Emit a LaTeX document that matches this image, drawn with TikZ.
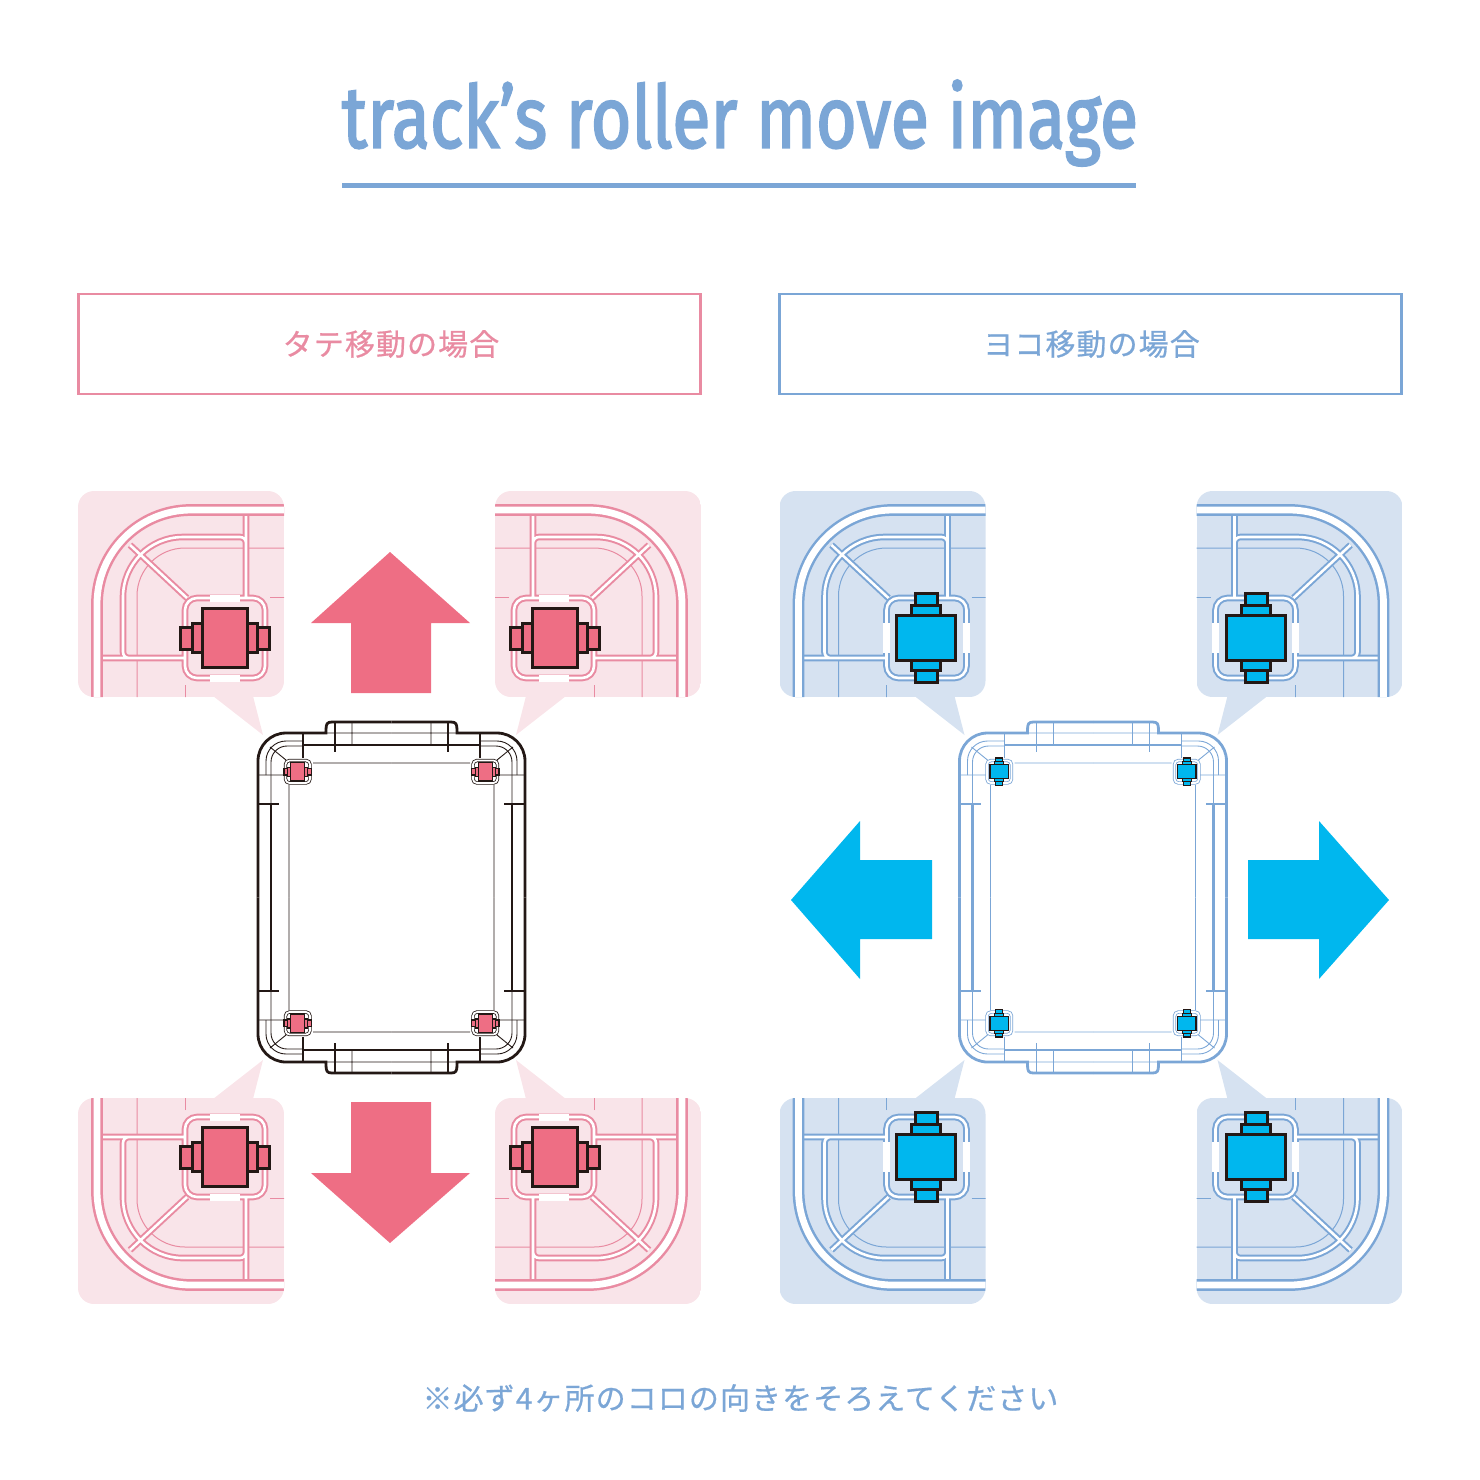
\documentclass[tikz,border=0pt]{standalone}
\usepackage{fontspec}
\setmainfont{Fira Sans}
\newfontfamily\jpfont{Noto Sans CJK JP}[LetterSpace=3.6,FakeBold=.6]
\newfontfamily\titlefont{Fira Sans}[FakeBold=2.4]
\usetikzlibrary{positioning}

\definecolor{pinkline}{HTML}{E98BA2}
\definecolor{pinkbg}{HTML}{F9E4E9}
\definecolor{pinkfill}{HTML}{EE6E84}
\definecolor{blueline}{HTML}{7BA6D6}
\definecolor{bluebg}{HTML}{D6E2F1}
\definecolor{bluefill}{HTML}{00B7EE}
\definecolor{caseblack}{HTML}{231815}

\tikzset{
    bigband/.style={double=white, double distance=3.4pt, line width=1.25pt},
    band/.style={double=white, double distance=1.3pt, line width=1pt},
    thinline/.style={line width=.5pt},
    labelbox/.style={draw, fill=white, line width=1.2pt, minimum width=311pt, minimum height=50pt, inner sep=0pt},
    caseline/.style={line width=.45pt},
    casethick/.style={line width=1.4pt},
    casemid/.style={line width=.75pt},
}

% roller: fill, angle, scale, line width
\newcommand{\roller}[4]{
    \begin{scope}[rotate=#2, scale=#3, draw=caseblack, fill=#1, line width=#4]
        \filldraw (-44.5,-11) rectangle (44.5,11);
        \filldraw (-32.5,-14.5) rectangle (32.5,14.5);
        \filldraw (-22.5,-29.5) rectangle (22.5,29.5);
    \end{scope}
}

% top left bubble: line colour, background, roller fill, roller angle
\newcommand{\cornerbubble}[4]{
    \fill[#2] (213,696) -- (253,696) -- (263,735) -- cycle;
    \begin{scope}
        \clip[rounded corners=8pt] (78,491) rectangle (284,697);
        \fill[#2] (78,491) rectangle (284,697);
        \draw[#1, thinline] (137,700) [rounded corners=24pt] -- (137,548) -- (290,548);
        \draw[#1, thinline] (185,685) -- (185,700) (270,597) -- (290,597);
        \draw[#1, band] (100,658) -- (184,658)
            (246,515) -- (246,597)
            (130,545) -- (187,598)
            (184,658) [rounded corners=3pt] -- (123,658) [rounded corners=30pt] -- (123,537) [rounded corners=3pt] -- (246,537) [sharp corners] -- (246,560)
            (185,598) [rounded corners=6pt] -- (265,598) -- (265,678) -- (185,678) -- cycle;
        \draw[#1, bigband] (97,700) [rounded corners=47pt] -- (97,510) -- (290,510);
        \begin{scope}[shift={(225,638)}, rotate=#4]
            \fill[white] (-15,-43.5) rectangle (15,-36.5);
            \fill[white] (-15,36.5) rectangle (15,43.5);
        \end{scope}
        \begin{scope}[shift={(224.5,638)}]
            \roller{#3}{#4}{1}{1.5pt}
        \end{scope}
    \end{scope}
}

% top left quarter of the case: line colour, roller fill, roller angle
\newcommand{\casequarter}[3]{
    \draw[#1, casethick] (391.5,722) -- (332,722) .. controls (327,722) and (326,724) .. (326,730) -- (326,733) -- (300,733)
        [rounded corners=14pt] -- (258,733) -- (258,897.5);
    \draw[#1, casethick] (271,804) -- (271,897.5);
    \draw[#1, caseline] (266,775) [rounded corners=10pt] -- (266,741) -- (303,741);
    \draw[#1, caseline] (271,804) [rounded corners=8pt] -- (271,746) -- (303,746);
    \draw[#1, caseline] (258,775) -- (285,775) (270,747) -- (286,760) (289,785) -- (289,897.5)
        (326,733) -- (391.5,733) (352,722) -- (352,745) (313,763) -- (391.5,763);
    \draw[#1, casemid] (258,804) -- (279,804) (303,733) -- (303,758) (335,722) -- (335,752) (303,745) -- (391.5,745);
    \draw[#1, line width=.4pt, double=white, double distance=.9pt, rounded corners=2pt, fill=white]
        (285.5,760.5) rectangle (310,783);
    \begin{scope}[shift={(297.7,771.7)}]
        \roller{#2}{#3}{.31}{.7pt}
    \end{scope}
}

% one whole panel
\newcommand{\movepanel}[5]{
    \foreach \sx/\mx/\sy/\my in {0/1/0/1, 779/-1/0/1, 0/1/1795/-1, 779/-1/1795/-1}{
        \begin{scope}[shift={(\sx,\sy)}, xscale=\mx, yscale=\my]
            \cornerbubble{#1}{#2}{#3}{#4}
        \end{scope}
    }
    \foreach \sx/\mx/\sy/\my in {0/1/0/1, 783/-1/0/1, 0/1/1795/-1, 783/-1/1795/-1}{
        \begin{scope}[shift={(\sx,\sy)}, xscale=\mx, yscale=\my]
            \casequarter{#5}{#3}{#4}
        \end{scope}
    }
}

\begin{document}
\begin{tikzpicture}[x=.5pt, y=-.5pt]
    \useasboundingbox (0,0) rectangle (1480,1480);

    % Title
    \node[text=blueline, inner sep=0pt] (title) at (740,123)
        {\resizebox*{398pt}{43pt}{\titlefont track’s roller move image}};
    \coordinate (ruleleft) at (342,185.5);
    \coordinate (ruleright) at (1136,185.5);
    \draw[blueline, line width=2.5pt] (ruleleft) -- (ruleright);

    % Labels
    \node[labelbox, draw=pinkline, text=pinkline] (tatelabel) at (389.5,344) {\hspace*{1.5pt}\jpfont\fontsize{15}{18}\selectfont タテ移動の場合};
    \node[labelbox, draw=blueline, text=blueline] (yokolabel) at (1090.5,344) {\hspace*{1pt}\jpfont\fontsize{15}{18}\selectfont ヨコ移動の場合};

    % Left panel
    \movepanel{pinkline}{pinkbg}{pinkfill}{0}{caseblack}
    \fill[pinkfill] (390,552) -- (470,623) -- (431,623) -- (431,693) -- (351,693) -- (351,623) -- (311,623) -- cycle;
    \fill[pinkfill] (390,1243) -- (470,1173) -- (431,1173) -- (431,1102) -- (351,1102) -- (351,1173) -- (311,1173) -- cycle;

    % Right panel
    \begin{scope}[xshift=350.75pt]
        \movepanel{blueline}{bluebg}{bluefill}{90}{blueline}
    \end{scope}
    \fill[bluefill] (791,900) -- (860,821) -- (860,860) -- (932,860) -- (932,939) -- (860,939) -- (860,979) -- cycle;
    \fill[bluefill] (1389,900) -- (1319,821) -- (1319,860) -- (1248,860) -- (1248,939) -- (1319,939) -- (1319,979) -- cycle;

    % Note
    \node[text=blueline, inner sep=0pt] (note) at (740.5,1398) {\jpfont\fontsize{15}{18}\selectfont ※必ず4ヶ所のコロの向きをそろえてください};
\end{tikzpicture}
\end{document}
